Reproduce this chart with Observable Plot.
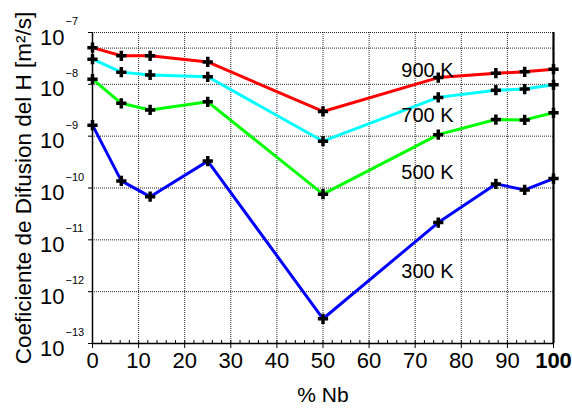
<!DOCTYPE html>
<html>
<head>
<meta charset="utf-8">
<script src="https://cdn.jsdelivr.net/npm/d3@7"></script>
<script src="https://cdn.jsdelivr.net/npm/@observablehq/plot@0.6"></script>
<style>
  html, body { margin: 0; padding: 0; background: #fff; }
  #chart { width: 572px; height: 412px; }
</style>
</head>
<body>
<div id="chart"></div>
<script>
// ---- data ----
const xNb = [0, 6.25, 12.5, 25, 50, 75, 87.5, 93.75, 100];
const d900 = [5.1e-8, 3.55e-8, 3.55e-8, 2.7e-8, 3.0e-9, 1.35e-8, 1.64e-8, 1.74e-8, 1.96e-8];
const d700 = [3.06e-8, 1.72e-8, 1.52e-8, 1.4e-8, 8.0e-10, 5.6e-9, 7.7e-9, 8.1e-9, 9.8e-9];
const d500 = [1.26e-8, 4.3e-9, 3.2e-9, 4.6e-9, 7.6e-11, 1.07e-9, 2.09e-9, 2.06e-9, 2.82e-9];
const d300 = [1.63e-9, 1.37e-10, 6.8e-11, 3.3e-10, 3.0e-13, 2.15e-11, 1.2e-10, 9.2e-11, 1.52e-10];
const seriesNames = ["900 K", "700 K", "500 K", "300 K"];
const seriesColors = ["#ff0000", "#00ffff", "#00ff00", "#0000ff"];
const seriesValues = [d900, d700, d500, d300];
const labelX = [67, 67, 67, 67];
const labelY = [1.85e-8, 2.5e-9, 1.96e-10, 2.4e-12];
const yTicks = [1e-13, 1e-12, 1e-11, 1e-10, 1e-9, 1e-8, 1e-7];
const yTickExp = ["\u221213", "\u221212", "\u221211", "\u221210", "\u22129", "\u22128", "\u22127"];
const yGrid = [1e-12, 1e-11, 1e-10, 1e-9, 1e-8, 5e-8, 1e-7];
const xTicks = [0, 10, 20, 30, 40, 50, 60, 70, 80, 90, 100];
const xGrid = [10, 20, 30, 40, 50, 60, 70, 80, 90];
const xMinor = d3.range(0, 101, 2);
const xTitle = "% Nb";
const yTitle = "Coeficiente de Difusion del H [m\u00b2/s]";

// ---- table ----
const rows = [];
seriesNames.forEach((name, i) => {
  seriesValues[i].forEach((v, j) => rows.push({series: name, x: xNb[j], y: v}));
});
const labels = seriesNames.map((name, i) => ({text: name, x: labelX[i], y: labelY[i]}));

const chart = Plot.plot({
  width: 572,
  height: 412,
  marginLeft: 92,
  marginRight: 19,
  marginTop: 32,
  marginBottom: 69,
  style: {fontFamily: "'Liberation Sans', Arial, Helvetica, sans-serif", background: "#fff", color: "#000"},
  x: {domain: [0, 100], axis: null, label: null},
  y: {type: "log", domain: [1e-13, 1e-7], axis: null, label: null},
  color: {domain: seriesNames, range: seriesColors},
  marks: [
    Plot.ruleY(yGrid, {stroke: "#000", strokeWidth: 1, strokeDasharray: "1,1", strokeOpacity: 0.85}),
    Plot.ruleX(xGrid, {stroke: "#000", strokeWidth: 1, strokeDasharray: "1,1", strokeOpacity: 0.85}),
    Plot.axisX(xMinor, {tickSize: 3, dy: -3, tickFormat: () => "", label: null}),
    Plot.axisX(xTicks, {tickSize: 5, tickFormat: () => "", label: null}),
    Plot.axisY(yTicks, {tickSize: 4, tickFormat: () => "", label: null}),
    Plot.ruleX([0], {stroke: "#000", strokeWidth: 1.5}),
    Plot.ruleY([1e-13], {stroke: "#000", strokeWidth: 1.5}),
    Plot.ruleX([100], {stroke: "#000", strokeWidth: 2.2}),
    Plot.line(rows, {x: "x", y: "y", z: "series", stroke: "series", strokeWidth: 3}),
    Plot.dot(rows, {x: "x", y: "y", symbol: "plus", r: 3.4, stroke: "#000", strokeWidth: 3.5}),
    Plot.text(labels, {x: "x", y: "y", text: "text", textAnchor: "start", fontSize: 20, fill: "#000"}),
    Plot.text(yTicks, {y: d => d, frameAnchor: "left", text: () => "10", textAnchor: "end", dx: -28, dy: 5, fontSize: 22}),
    Plot.text(yTicks, {y: d => d, frameAnchor: "left", text: (d, i) => yTickExp[i], textAnchor: "start", dx: -27, dy: -11, fontSize: 11}),
    Plot.text(xTicks.filter(d => d < 100), {x: d => d, frameAnchor: "bottom", text: d => String(d), dy: 24, fontSize: 22}),
    Plot.text(xTicks.filter(d => d === 100), {x: d => d, frameAnchor: "bottom", text: d => String(d), dy: 24, fontSize: 22, fontWeight: "bold"}),
    Plot.text([xTitle], {frameAnchor: "bottom", text: d => d, dy: 58, fontSize: 21}),
    Plot.text([yTitle], {frameAnchor: "left", textAnchor: "middle", text: d => d, rotate: -90, dx: -69, fontSize: 22.5})
  ]
});
document.getElementById("chart").appendChild(chart);
</script>
</body>
</html>
